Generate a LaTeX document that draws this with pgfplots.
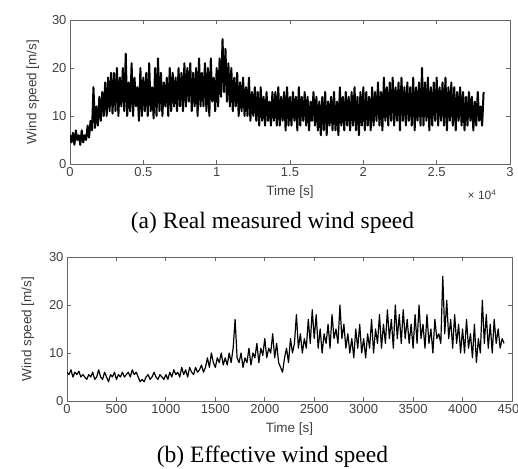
\documentclass[border=0pt]{standalone}
\usepackage{fontspec}
\setmainfont{Liberation Serif}
\newfontfamily\axfont{Liberation Sans}
\usepackage{pgfplots}
\pgfplotsset{compat=1.18}
\pgfplotsset{matstyle/.style={
  scale only axis, height=144pt,
  ymin=0, ymax=30, ytick={0,10,20,30},
  scaled x ticks=false,
  tick align=inside, major tick length=4pt,
  axis line style={black!60, line width=0.8pt},
  every tick/.style={black!60, line width=0.8pt},
  tick label style={font=\axfont\fontsize{13}{15}\selectfont, text=black!75},
  label style={font=\axfont\fontsize{13.5}{15}\selectfont, text=black!75},
  /pgf/number format/assume math mode=true,
  ylabel={Wind speed [m/s]},
  xlabel={Time [s]},
  xlabel style={at={(axis description cs:0.5,0)}, anchor=center, yshift=-28pt},
}}
\begin{document}
\begin{tikzpicture}
\useasboundingbox (0,0) rectangle (518pt,468pt);
% ---------------- (a)
\begin{axis}[matstyle, name=axa, at={(70pt,304pt)}, anchor=south west, width=440pt,
  xmin=0, xmax=30000, xtick={0,5000,10000,15000,20000,25000,30000},
  xticklabels={0,0.5,1,1.5,2,2.5,3},
  ylabel style={at={(axis description cs:0,0.5)}, anchor=center, yshift=37pt}]
\addplot[black, line width=2pt, line join=round] coordinates {
(0,6)(100,4.5)(200,6.5)(300,4)(400,7)(500,5)(600,6)(700,4)(800,7)(900,4.5)
(1000,6)(1100,5)(1200,8)(1300,5.5)(1400,9)(1500,7)(1600,16)(1700,7.5)(1800,12)(1900,8)
(2000,14)(2100,9)(2200,15)(2300,10)(2400,17)(2500,10)(2600,18)(2700,11)(2800,19)(2900,10.5)
(3000,19)(3100,11)(3200,20)(3300,10)(3400,18)(3500,12)(3600,20)(3700,11)(3800,23)(3900,10)
(4000,17)(4100,11)(4200,21)(4300,10)(4400,18)(4500,12)(4600,16)(4700,9)(4800,20)(4900,10)
(5000,18)(5100,11)(5200,19)(5300,10)(5400,21)(5500,11)(5600,16)(5700,9.5)(5800,20)(5900,10)
(6000,22)(6100,11)(6200,19)(6300,10)(6400,17)(6500,12)(6600,18)(6700,10)(6800,20)(6900,11)
(7000,19)(7100,12)(7200,18)(7300,11)(7400,20)(7500,12)(7600,19)(7700,11)(7800,21)(7900,12)
(8000,20)(8100,13)(8200,21)(8300,11)(8400,19)(8500,12)(8600,20)(8700,10)(8800,22)(8900,12)
(9000,19)(9100,12)(9200,21)(9300,11)(9400,20)(9500,10)(9600,22)(9700,13)(9800,18)(9900,11)
(10000,20)(10100,12)(10200,22)(10300,14)(10400,26)(10500,15)(10600,24)(10700,13)(10800,21)(10900,12)
(11000,20)(11100,11)(11200,18)(11300,12)(11400,19)(11500,10)(11600,17)(11700,11)(11800,18)(11900,10)
(12000,16)(12100,10)(12200,18)(12300,9)(12400,15)(12500,10)(12600,16)(12700,9)(12800,15)(12900,8)
(13000,16)(13100,9)(13200,14)(13300,8)(13400,15)(13500,9)(13600,13)(13700,8)(13800,15)(13900,9)
(14000,15)(14100,8)(14200,16)(14300,8)(14400,14)(14500,9)(14600,15)(14700,7)(14800,16)(14900,8)
(15000,14)(15100,8)(15200,15)(15300,9)(15400,14)(15500,7)(15600,16)(15700,8)(15800,14)(15900,9)
(16000,15)(16100,8)(16200,14)(16300,7)(16400,13)(16500,9)(16600,15)(16700,8)(16800,14)(16900,7)
(17000,13)(17100,6)(17200,14)(17300,7)(17400,15)(17500,6)(17600,13)(17700,8)(17800,14)(17900,7)
(18000,15)(18100,7)(18200,13)(18300,6)(18400,16)(18500,8)(18600,14)(18700,7)(18800,15)(18900,8)
(19000,14)(19100,7)(19200,15)(19300,8)(19400,16)(19500,7)(19600,14)(19700,6)(19800,15)(19900,8)
(20000,16)(20100,7)(20200,15)(20300,8)(20400,14)(20500,7)(20600,16)(20700,8)(20800,15)(20900,9)
(21000,17)(21100,8)(21200,15)(21300,7)(21400,18)(21500,9)(21600,16)(21700,8)(21800,17)(21900,9)
(22000,18)(22100,8)(22200,16)(22300,9)(22400,17)(22500,7)(22600,18)(22700,9)(22800,16)(22900,8)
(23000,17)(23100,9)(23200,16)(23300,8)(23400,18)(23500,7)(23600,16)(23700,9)(23800,17)(23900,8)
(24000,20)(24100,8)(24200,17)(24300,9)(24400,18)(24500,7)(24600,16)(24700,8)(24800,17)(24900,9)
(25000,18)(25100,8)(25200,16)(25300,9)(25400,17)(25500,8)(25600,18)(25700,7)(25800,16)(25900,9)
(26000,17)(26100,8)(26200,16)(26300,7)(26400,15)(26500,9)(26600,16)(26700,8)(26800,15)(26900,7)
(27000,14)(27100,8)(27200,15)(27300,9)(27400,14)(27500,7)(27600,13)(27700,8)(27800,15)(27900,9)
(28000,12)(28100,8)(28200,15)
};
\end{axis}
\node[font=\axfont\fontsize{12}{14}\selectfont, text=black!75] at (axa.south east) [xshift=-28pt, yshift=-31pt] {× 10\textsuperscript{4}};
\node[anchor=base, font=\fontsize{23.5}{26}\selectfont] at (272.5pt,239pt) {(a) Real measured wind speed};
% ---------------- (b)
\begin{axis}[matstyle, at={(67pt,67pt)}, anchor=south west, width=445pt,
  xmin=0, xmax=4500, xtick={0,500,1000,1500,2000,2500,3000,3500,4000,4500},
  xticklabels={0,500,1000,1500,2000,2500,3000,3500,4000,4500},
  ylabel style={at={(axis description cs:0,0.5)}, anchor=center, yshift=39pt}]
\addplot[black, line width=1.2pt, line join=round] coordinates {
(0,6)(20,5.5)(40,6.5)(60,5)(80,6)(100,5.5)(120,6.2)(140,5)(160,5.5)(180,5)
(200,4.5)(220,5.5)(240,5)(260,6)(280,4.5)(300,5)(320,6.5)(340,5)(360,4.5)(380,6)
(400,5)(420,4)(440,5.5)(460,5)(480,6)(500,4.5)(520,5.5)(540,5)(560,6)(580,5)
(600,5.5)(620,6)(640,5)(660,6.5)(680,5.5)(700,6)(720,5)(740,4)(760,4.5)(780,4)
(800,5)(820,5.5)(840,4.5)(860,5)(880,6)(900,5)(920,4.5)(940,5.5)(960,5)(980,4.5)
(1000,5.5)(1020,4.5)(1040,6)(1060,5)(1080,6.5)(1100,5.5)(1120,6)(1140,5)(1160,7)(1180,5.5)
(1200,6.5)(1220,5)(1240,7)(1260,6)(1280,5.5)(1300,7)(1320,6)(1340,6.5)(1360,7.5)(1380,6)
(1400,7)(1420,9)(1440,7)(1460,10)(1480,8)(1500,7)(1520,9)(1540,8)(1560,10)(1580,7.5)
(1600,9)(1620,7.5)(1640,10)(1660,8)(1680,11)(1700,17)(1720,9)(1740,8)(1760,10)(1780,7)
(1800,9)(1820,8)(1840,11)(1860,7.5)(1880,10)(1900,9)(1920,12)(1940,8)(1960,11)(1980,9.5)
(2000,13)(2020,9)(2040,11)(2060,10)(2080,14)(2100,9)(2120,12)(2140,8)(2160,7)(2180,6)
(2200,9)(2220,11)(2240,8)(2260,13)(2280,10)(2300,12)(2320,18)(2340,11)(2360,14)(2380,10)
(2400,13)(2420,11)(2440,17)(2460,12)(2480,19)(2500,13)(2520,18)(2540,11)(2560,15)(2580,10)
(2600,14)(2620,12)(2640,16)(2660,11)(2680,18)(2700,13)(2720,15)(2740,12)(2760,20)(2780,13)
(2800,16)(2820,11)(2840,14)(2860,10)(2880,13)(2900,9)(2920,15)(2940,11)(2960,16)(2980,10)
(3000,13)(3020,9)(3040,14)(3060,11)(3080,17)(3100,10)(3120,15)(3140,12)(3160,18)(3180,11)
(3200,16)(3220,12)(3240,19)(3260,13)(3280,17)(3300,11)(3320,20)(3340,13)(3360,18)(3380,12)
(3400,19)(3420,13)(3440,17)(3460,12)(3480,16)(3500,11)(3520,18)(3540,12)(3560,20)(3580,13)
(3600,16)(3620,11)(3640,18)(3660,12)(3680,15)(3700,10)(3720,17)(3740,13)(3760,14)(3780,12)
(3800,26)(3820,14)(3840,21)(3860,13)(3880,17)(3900,11)(3920,18)(3940,12)(3960,16)(3980,10)
(4000,15)(4020,10)(4040,17)(4060,11)(4080,14)(4100,9)(4120,16)(4140,8)(4160,13)(4180,10)
(4200,21)(4220,12)(4240,18)(4260,11)(4280,16)(4300,10)(4320,17)(4340,12)(4360,15)(4380,11)
(4400,13)(4420,12)
};
\end{axis}
\node[anchor=base, font=\fontsize{23.5}{26}\selectfont] at (272.5pt,6pt) {(b) Effective wind speed};
\end{tikzpicture}
\end{document}
